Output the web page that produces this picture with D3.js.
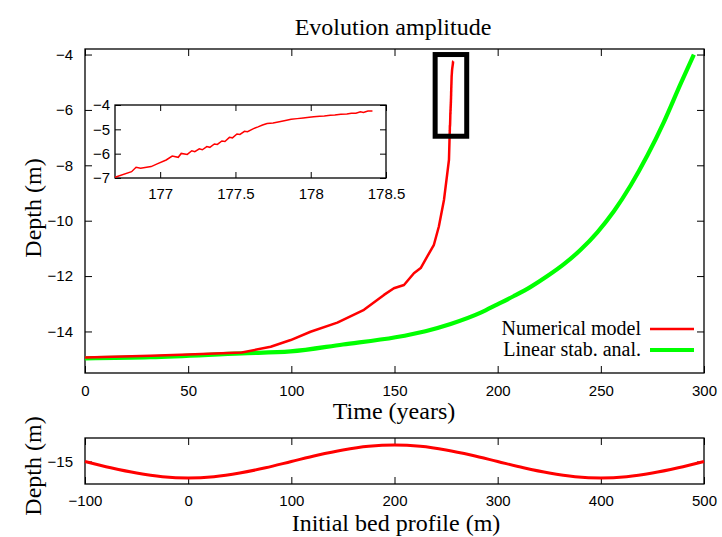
<!DOCTYPE html>
<html>
<head>
<meta charset="utf-8">
<script src="https://cdn.jsdelivr.net/npm/d3@7"></script>
<style>
  html, body { margin: 0; padding: 0; background: #fff; }
  svg { display: block; }
  .tick text { font-family: "Liberation Sans", Arial, sans-serif; font-size: 15px; fill: #000; }
  .tick line { stroke: #000; stroke-width: 1; }
  .serif { font-family: "Liberation Serif", "Times New Roman", serif; fill: #000; }
</style>
</head>
<body>
<script>
// ---------------- DATA ----------------
// Numerical model (coarse part, main panel)
const timeNum  = [0, 31.8, 50, 76, 90, 99.7, 109.3, 122.3, 135.2, 144.9, 149.7, 154.6, 159.4, 162.7, 165.9, 169.1, 171.5, 174.0, 175.6, 176.4];
const depthNum = [-14.94, -14.88, -14.83, -14.76, -14.55, -14.31, -14.01, -13.68, -13.22, -12.68, -12.44, -12.32, -11.90, -11.71, -11.29, -10.87, -10.21, -9.24, -8.28, -7.80];
// Numerical model (fine part, shown in inset)
const timeFine  = [176.70, 176.81, 176.84, 176.87, 176.94, 176.98, 177.04, 177.08, 177.12, 177.14, 177.18, 177.21, 177.23, 177.26, 177.28, 177.31, 177.33, 177.36, 177.38, 177.41, 177.43, 177.46, 177.48, 177.51, 177.53, 177.56, 177.58, 177.62, 177.65, 177.68, 177.71, 177.75, 177.80, 177.84, 177.87, 177.91, 177.95, 177.99, 178.02, 178.06, 178.09, 178.13, 178.16, 178.20, 178.24, 178.27, 178.30, 178.33, 178.35, 178.38, 178.41];
const depthFine = [-6.97, -6.74, -6.56, -6.60, -6.53, -6.42, -6.26, -6.10, -6.15, -5.99, -6.03, -5.88, -5.92, -5.80, -5.84, -5.71, -5.74, -5.60, -5.62, -5.48, -5.50, -5.33, -5.35, -5.19, -5.21, -5.08, -5.10, -4.97, -4.90, -4.82, -4.76, -4.74, -4.68, -4.63, -4.59, -4.56, -4.53, -4.50, -4.48, -4.46, -4.45, -4.42, -4.41, -4.38, -4.37, -4.34, -4.34, -4.28, -4.31, -4.25, -4.25];
// Linear stability analysis
const timeLin  = [0, 31.8, 76, 99.6, 125, 150.5, 165, 177.2, 191.8, 199.9, 207.9, 216.0, 224.1, 232.1, 240.2, 248.3, 256.4, 264.5, 272.6, 280.6, 288.7, 295.1];
const depthLin = [-14.97, -14.93, -14.79, -14.72, -14.47, -14.21, -13.99, -13.73, -13.32, -13.02, -12.72, -12.39, -12.00, -11.57, -11.05, -10.42, -9.65, -8.72, -7.64, -6.43, -5.05, -4.0];
// Initial bed profile
const profileX     = [-100, -75, -50, -25, 0, 25, 50, 75, 100, 125, 150, 175, 200, 225, 250, 275, 300, 325, 350, 375, 400, 425, 450, 475, 500];
const profileDepth = [-15.0, -15.19, -15.35, -15.46, -15.5, -15.46, -15.35, -15.19, -15.0, -14.81, -14.65, -14.54, -14.5, -14.54, -14.65, -14.81, -15.0, -15.19, -15.35, -15.46, -15.5, -15.46, -15.35, -15.19, -15.0];
// Tick values
const mainXTicks  = [0, 50, 100, 150, 200, 250, 300];
const mainYTicks  = [-14, -12, -10, -8, -6, -4];
const insetXTicks = [177, 177.5, 178, 178.5];
const insetYTicks = [-7, -6, -5, -4];
const profXTicks  = [-100, 0, 100, 200, 300, 400, 500];
const profYTicks  = [-15];
// Zoom box (time range, depth range)
const zoomBoxT = [169.7, 185.0];
const zoomBoxD = [-6.95, -4.0];
// Labels
const titleText = "Evolution amplitude";
const legendNames = ["Numerical model", "Linear stab. anal."];

// ---------------- DRAW ----------------
const W = 722, H = 537;
const svg = d3.select("body").append("svg").attr("width", W).attr("height", H);

const M = { left: 85, right: 704, top: 49, bottom: 373 };
const x = d3.scaleLinear().domain([0, 300]).range([M.left, M.right]);
const y = d3.scaleLinear().domain([-15.5, -3.8]).range([M.bottom, M.top]);

function drawAxes(g, xs, ys, xt, yt, xfmt, yfmt, tickLen, pad, yPad) {
  const [x0, x1] = xs.range(), [y0, y1] = ys.range();
  g.append("g").attr("transform", `translate(0,${y0})`)
    .call(d3.axisBottom(xs).tickValues(xt).tickSize(-tickLen).tickPadding(pad).tickFormat(xfmt))
    .call(s => s.select(".domain").remove());
  g.append("g").attr("transform", `translate(0,${y1})`)
    .call(d3.axisTop(xs).tickValues(xt).tickSize(-tickLen).tickFormat(""))
    .call(s => s.select(".domain").remove());
  g.append("g").attr("transform", `translate(${x0},0)`)
    .call(d3.axisLeft(ys).tickValues(yt).tickSize(-tickLen).tickPadding(yPad).tickFormat(yfmt))
    .call(s => s.select(".domain").remove());
  g.append("g").attr("transform", `translate(${x1},0)`)
    .call(d3.axisRight(ys).tickValues(yt).tickSize(-tickLen).tickFormat(""))
    .call(s => s.select(".domain").remove());
  g.append("rect").attr("x", x0).attr("y", y1).attr("width", x1 - x0).attr("height", y0 - y1)
    .attr("fill", "none").attr("stroke", "#000").attr("stroke-width", 1.3);
}

// Main panel
const gMain = svg.append("g");
drawAxes(gMain, x, y, mainXTicks, mainYTicks, d3.format("d"), d3.format("d"), 7, 12, 12);

const linData = timeLin.map((t, i) => [t, depthLin[i]]);
const numData = timeNum.map((t, i) => [t, depthNum[i]]).concat(timeFine.map((t, i) => [t, depthFine[i]]));

gMain.append("path").datum(linData)
  .attr("d", d3.line().x(d => x(d[0])).y(d => y(d[1])).curve(d3.curveMonotoneX))
  .attr("fill", "none").attr("stroke", "#00ff00").attr("stroke-width", 4.2);
gMain.append("path").datum(numData)
  .attr("d", d3.line().x(d => x(d[0])).y(d => y(d[1])))
  .attr("fill", "none").attr("stroke", "#ff0000").attr("stroke-width", 2.5).attr("stroke-linejoin", "round");

// Zoom box
gMain.append("rect")
  .attr("x", x(zoomBoxT[0])).attr("y", y(zoomBoxD[1]))
  .attr("width", x(zoomBoxT[1]) - x(zoomBoxT[0]))
  .attr("height", y(zoomBoxD[0]) - y(zoomBoxD[1]))
  .attr("fill", "none").attr("stroke", "#000").attr("stroke-width", 5);

// Title and labels
svg.append("text").attr("class", "serif").attr("x", 393).attr("y", 35)
  .attr("text-anchor", "middle").attr("font-size", 24).text(titleText);
svg.append("text").attr("class", "serif").attr("x", 394).attr("y", 419)
  .attr("text-anchor", "middle").attr("font-size", 24).text("Time (years)");
svg.append("text").attr("class", "serif")
  .attr("transform", "translate(41,208) rotate(-90)")
  .attr("text-anchor", "middle").attr("font-size", 24).text("Depth (m)");

// Legend
const legColors = ["#ff0000", "#00ff00"];
const legW = [2.5, 4];
legendNames.forEach((n, i) => {
  const ly = 329 + i * 21;
  svg.append("text").attr("class", "serif").attr("x", 641).attr("y", ly + 6)
    .attr("text-anchor", "end").attr("font-size", 20).text(n);
  svg.append("line").attr("x1", 650).attr("x2", 694).attr("y1", ly).attr("y2", ly)
    .attr("stroke", legColors[i]).attr("stroke-width", legW[i]);
});

// Inset
const xi = d3.scaleLinear().domain([176.7, 178.5]).range([115, 386]);
const yi = d3.scaleLinear().domain([-7, -4]).range([178, 105]);
const gIn = svg.append("g");
gIn.append("rect").attr("x", 115).attr("y", 105).attr("width", 271).attr("height", 73).attr("fill", "#fff");
drawAxes(gIn, xi, yi, insetXTicks, insetYTicks, d3.format(""), d3.format("d"), 6, 10, 5);
const fineData = timeFine.map((t, i) => [t, depthFine[i]]);
gIn.append("path").datum(fineData)
  .attr("d", d3.line().x(d => xi(d[0])).y(d => yi(d[1])))
  .attr("fill", "none").attr("stroke", "#ff0000").attr("stroke-width", 1.5);

// Bottom panel: initial bed profile
const xp = d3.scaleLinear().domain([-100, 500]).range([M.left, M.right]);
const yp = d3.scaleLinear().domain([-15.68, -14.29]).range([484, 438]);
const gP = svg.append("g");
drawAxes(gP, xp, yp, profXTicks, profYTicks, d3.format("d"), d3.format("d"), 7, 11, 12);
const profData = profileX.map((v, i) => [v, profileDepth[i]]);
gP.append("path").datum(profData)
  .attr("d", d3.line().x(d => xp(d[0])).y(d => yp(d[1])).curve(d3.curveMonotoneX))
  .attr("fill", "none").attr("stroke", "#ff0000").attr("stroke-width", 3);

svg.append("text").attr("class", "serif").attr("x", 396).attr("y", 531)
  .attr("text-anchor", "middle").attr("font-size", 24).text("Initial bed profile (m)");
svg.append("text").attr("class", "serif")
  .attr("transform", "translate(41,466) rotate(-90)")
  .attr("text-anchor", "middle").attr("font-size", 24).text("Depth (m)");
</script>
</body>
</html>
